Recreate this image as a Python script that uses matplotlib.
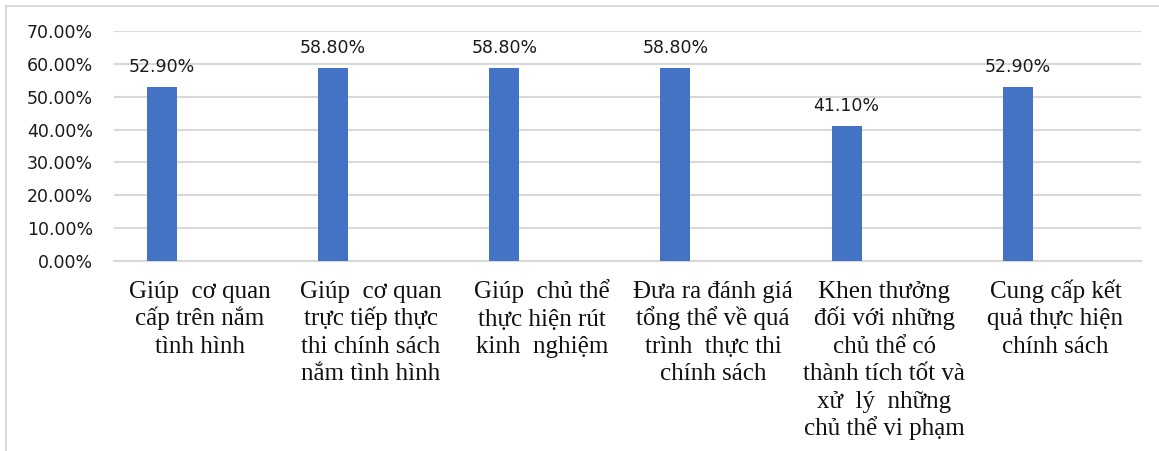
import matplotlib
matplotlib.use("Agg")
import matplotlib.pyplot as plt
from matplotlib.lines import Line2D
from matplotlib.ticker import FuncFormatter
import numpy as np

categories = [
    "Giúp  cơ quan\ncấp trên nắm\ntình hình",
    "Giúp  cơ quan\ntrực tiếp thực\nthi chính sách\nnắm tình hình",
    "Giúp  chủ thể\nthực hiện rút\nkinh  nghiệm",
    "Đưa ra đánh giá\ntổng thể về quá\ntrình  thực thi\nchính sách",
    "Khen thưởng\nđối với những\nchủ thể có\nthành tích tốt và\nxử  lý  những\nchủ thể vi phạm",
    "Cung cấp kết\nquả thực hiện\nchính sách",
]
values = [0.529, 0.588, 0.588, 0.588, 0.411, 0.529]
yticks = [0.0, 0.1, 0.2, 0.3, 0.4, 0.5, 0.6, 0.7]

W, H = 1159, 451
fig = plt.figure(figsize=(W / 100, H / 100), dpi=100)
ax = fig.add_axes([114 / W, 1 - 261 / H, (1141 - 114) / W, (261 - 31) / H])

x = np.arange(len(categories))
bar_offset = -0.22
ax.bar(x + bar_offset, values, width=0.175, color="#4472C4", zorder=3)

for xi, v in zip(x, values):
    ax.annotate(f"{v*100:.2f}%", (xi + bar_offset, v), xytext=(0, 8),
                textcoords="offset points", ha="center", va="bottom",
                fontsize=12.5, family="DejaVu Sans", color="#1a1a1a")

ax.set_xlim(-0.5, len(categories) - 0.5)
ax.set_ylim(0, 0.7)
ax.set_yticks(yticks)
ax.yaxis.set_major_formatter(FuncFormatter(lambda v, p: f"{v*100:.2f}%"))
ax.set_xticks(x)
ax.set_xticklabels([])
for lab in ax.get_yticklabels():
    lab.set_family("DejaVu Sans")
    lab.set_fontsize(12.5)
    lab.set_color("#1a1a1a")

# category labels: one text per line, on uniform baselines
first_base_pt = 37 * 0.72
line_pt = 27.5 * 0.72
for xi, cat in zip(x, categories):
    for i, line in enumerate(cat.split("\n")):
        ax.annotate(line, (xi, 0), xycoords=ax.get_xaxis_transform(),
                    xytext=(0, -first_base_pt - i * line_pt),
                    textcoords="offset points", ha="center", va="baseline",
                    family="Liberation Serif", fontsize=18, color="#111111",
                    annotation_clip=False)

ax.tick_params(axis="both", length=0)
ax.tick_params(axis="y", pad=15)
ax.grid(axis="y", color="#D9D9D9", linewidth=1.5, zorder=0)
for s in ["top", "right", "left"]:
    ax.spines[s].set_visible(False)
ax.spines["bottom"].set_color("#D9D9D9")
ax.spines["bottom"].set_linewidth(1.5)

# outer frame (top and left edges only)
fig.lines.append(Line2D([6 / W, 1], [1 - 6 / H, 1 - 6 / H], transform=fig.transFigure,
                        color="#D9D9D9", linewidth=1.5))
fig.lines.append(Line2D([6 / W, 6 / W], [0, 1 - 6 / H], transform=fig.transFigure,
                        color="#D9D9D9", linewidth=1.5))

fig.savefig("out.png", dpi=100)
